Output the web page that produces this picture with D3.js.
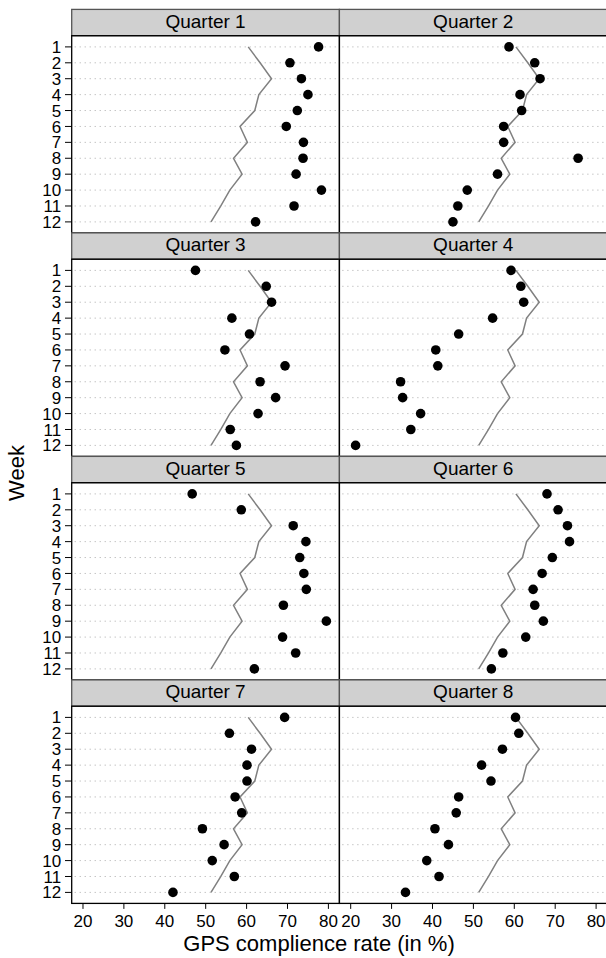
<!DOCTYPE html>
<html>
<head>
<meta charset="utf-8">
<script src="https://cdn.jsdelivr.net/npm/d3@7"></script>
<style>
  html, body { margin: 0; padding: 0; background: #fff; }
  svg { display: block; font-family: "Liberation Sans", Arial, Helvetica, sans-serif; }
</style>
</head>
<body>
<svg id="chart" width="606" height="958"></svg>
<script>
// ---- data ----
const weeks = [1, 2, 3, 4, 5, 6, 7, 8, 9, 10, 11, 12];
const quarters = ["Quarter 1", "Quarter 2", "Quarter 3", "Quarter 4",
                  "Quarter 5", "Quarter 6", "Quarter 7", "Quarter 8"];
const xTicks = [20, 30, 40, 50, 60, 70, 80];
// grey reference line (same in every panel)
const reference = [60.4, 63.3, 66.1, 63.0, 62.0, 58.4, 60.2, 56.8, 58.9, 55.9, 53.7, 51.3];
// GPS compliance rate per week, one array per quarter
const q1 = [77.6, 70.6, 73.4, 75.0, 72.4, 69.7, 73.9, 73.8, 72.1, 78.3, 71.6, 62.2];
const q2 = [58.7, 65.0, 66.3, 61.4, 61.8, 57.4, 57.4, 75.6, 55.9, 48.5, 46.2, 45.0];
const q3 = [47.5, 64.8, 66.1, 56.4, 60.7, 54.7, 69.4, 63.3, 67.1, 62.8, 56.0, 57.5];
const q4 = [59.2, 61.6, 62.3, 54.7, 46.4, 40.8, 41.3, 32.2, 32.7, 37.1, 34.7, 21.2];
const q5 = [46.7, 58.7, 71.4, 74.5, 73.0, 74.0, 74.6, 69.0, 79.5, 68.8, 72.0, 61.9];
const q6 = [68.0, 70.7, 73.0, 73.5, 69.3, 66.8, 64.6, 65.0, 67.1, 62.8, 57.2, 54.4];
const q7 = [69.3, 55.8, 61.2, 60.1, 60.1, 57.2, 58.8, 49.2, 54.5, 51.6, 57.0, 42.0];
const q8 = [60.3, 61.1, 57.1, 52.0, 54.3, 46.4, 45.8, 40.6, 43.9, 38.6, 41.6, 33.4];
const series = [q1, q2, q3, q4, q5, q6, q7, q8];

// ---- layout ----
const left0 = 71.7, panelW = 267.7, top0 = 9.4, rowH = 223.5, stripH = 26.3;
const plotH = rowH - stripH;

const svg = d3.select("#chart");

const x = d3.scaleLinear().domain([17.24, 82.69]).range([0, panelW]);
const y = d3.scaleLinear().domain([1, 12]).range([11.2, plotH - 11.0]);

const line = d3.line()
  .x(d => x(d.v))
  .y(d => y(d.w));

quarters.forEach((q, i) => {
  const col = i % 2, row = Math.floor(i / 2);
  const px = left0 + col * panelW;
  const py = top0 + row * rowH;
  const g = svg.append("g").attr("transform", `translate(${px},${py})`);

  // strip
  g.append("rect")
    .attr("x", 0).attr("y", 0).attr("width", panelW).attr("height", stripH)
    .attr("fill", "#d0d0d0").attr("stroke", "#555").attr("stroke-width", 1.3);
  g.append("text")
    .attr("x", panelW / 2).attr("y", 18.2)
    .attr("text-anchor", "middle")
    .attr("font-size", 19).attr("fill", "#000")
    .text(q);

  const p = g.append("g").attr("transform", `translate(0,${stripH})`);

  // dotted grid lines
  p.selectAll("line.grid").data(weeks).join("line")
    .attr("class", "grid")
    .attr("x1", 3).attr("x2", panelW)
    .attr("y1", d => y(d)).attr("y2", d => y(d))
    .attr("stroke", "#aaaaaa").attr("stroke-width", 1)
    .attr("stroke-dasharray", "1,4");

  // reference line
  p.append("path")
    .datum(weeks.map((w, k) => ({ w, v: reference[k] })))
    .attr("d", line)
    .attr("fill", "none").attr("stroke", "#808080").attr("stroke-width", 1.5);

  // dots
  p.selectAll("circle").data(weeks.map((w, k) => ({ w, v: series[i][k] }))).join("circle")
    .attr("cx", d => x(d.v)).attr("cy", d => y(d.w))
    .attr("r", 4.8).attr("fill", "#000");

  // panel border
  p.append("rect")
    .attr("x", 0).attr("y", 0).attr("width", panelW).attr("height", plotH)
    .attr("fill", "none").attr("stroke", "#000").attr("stroke-width", 1.3);

  // y axis on left column
  if (col === 0) {
    const ya = p.append("g");
    ya.selectAll("line").data(weeks).join("line")
      .attr("x1", -6.7).attr("x2", 0)
      .attr("y1", d => y(d)).attr("y2", d => y(d))
      .attr("stroke", "#000").attr("stroke-width", 1);
    ya.selectAll("text").data(weeks).join("text")
      .attr("x", -10.5).attr("y", d => y(d) + 6.1)
      .attr("text-anchor", "end").attr("font-size", 17)
      .text(d => d);
  }

  // x axis on bottom row
  if (row === 3) {
    const xa = p.append("g").attr("transform", `translate(0,${plotH})`);
    xa.selectAll("line").data(xTicks).join("line")
      .attr("x1", d => x(d)).attr("x2", d => x(d))
      .attr("y1", 0).attr("y2", 5.5)
      .attr("stroke", "#000").attr("stroke-width", 1);
    xa.selectAll("text").data(xTicks).join("text")
      .attr("x", d => x(d)).attr("y", 23.8)
      .attr("text-anchor", "middle").attr("font-size", 17)
      .text(d => d);
  }
});

// axis titles
svg.append("text")
  .attr("x", 319).attr("y", 951)
  .attr("text-anchor", "middle").attr("font-size", 22)
  .text("GPS complience rate (in %)");

svg.append("text")
  .attr("transform", "translate(24,473) rotate(-90)")
  .attr("text-anchor", "middle").attr("font-size", 22)
  .text("Week");
</script>
</body>
</html>
